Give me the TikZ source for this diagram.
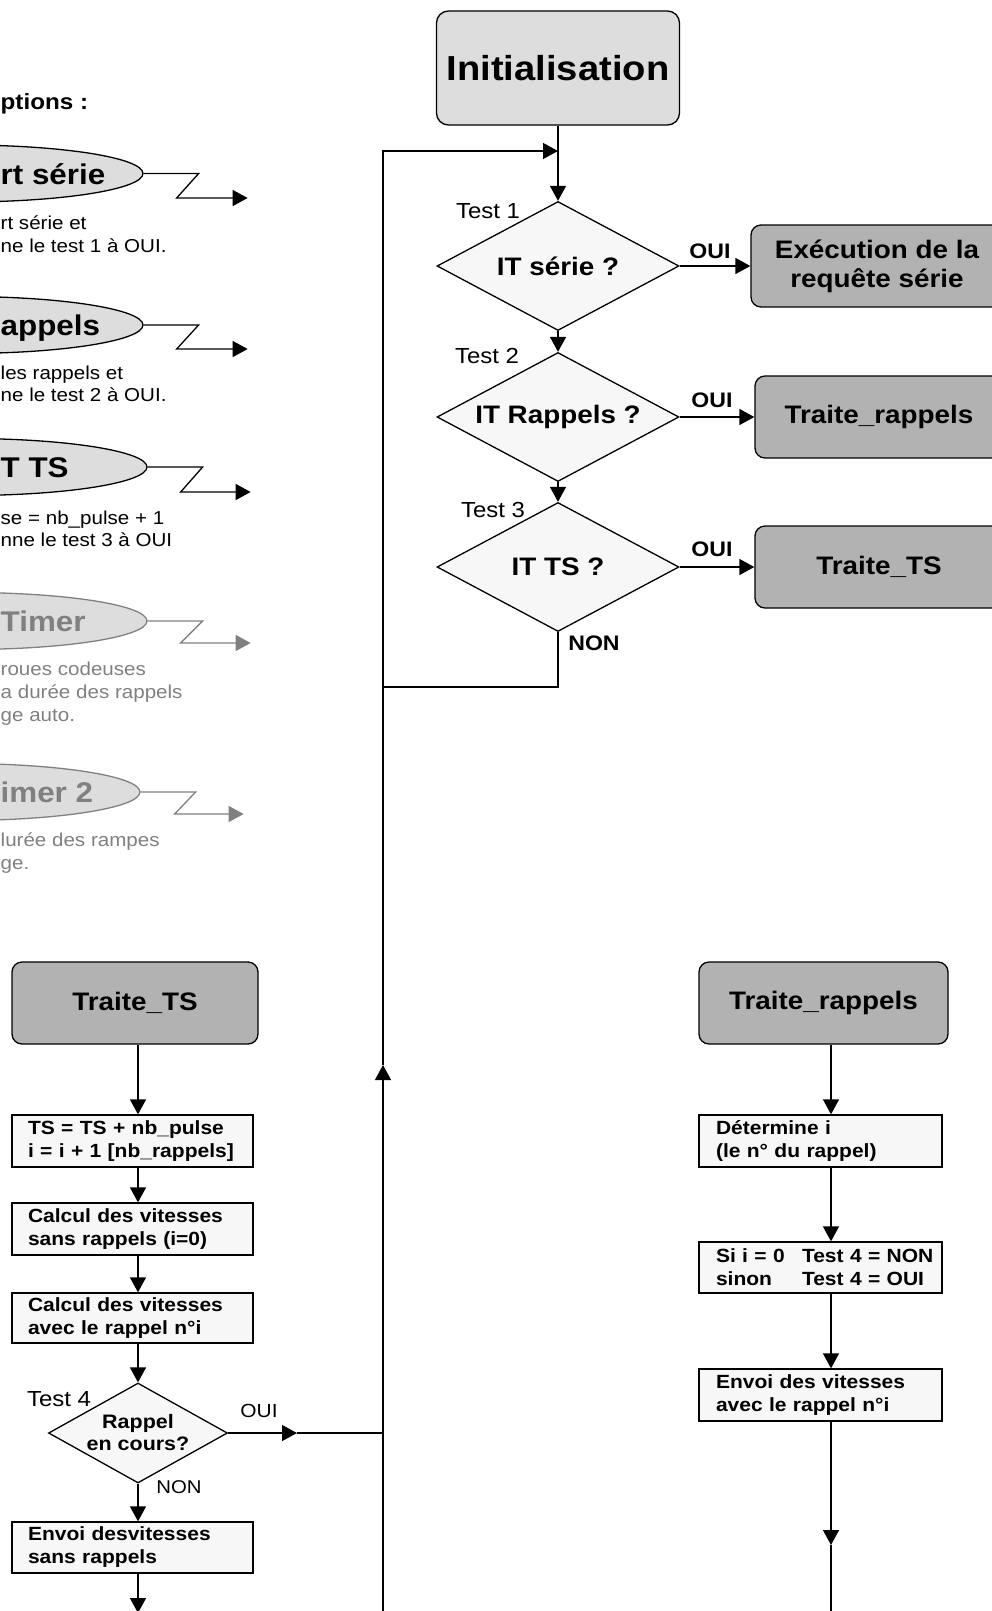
\documentclass[tikz,border=0pt]{standalone}
\usepackage{fontspec}
\setmainfont{Liberation Sans}[FakeStretch=1.1]
\usetikzlibrary{arrows.meta,shapes.geometric}
\definecolor{lightfill}{HTML}{DDDDDD}
\definecolor{darkfill}{HTML}{B2B2B2}
\definecolor{procfill}{HTML}{F7F7F7}
\definecolor{midgray}{HTML}{808080}
\tikzset{
  ln/.style={line width=1.3pt},
  arr/.style={ln, -{Triangle[length=15pt,width=16pt]}},
  garr/.style={arr, draw=midgray},
  initbox/.style={draw, ln, fill=lightfill, rounded corners=12pt, minimum width=243pt, minimum height=114pt, inner sep=0pt, font=\bfseries\fontsize{34.7}{40}\selectfont},
  darkbox/.style={draw, ln, fill=darkfill, rounded corners=10pt, minimum width=248pt, minimum height=82pt, inner sep=0pt, align=center, font=\bfseries\fontsize{25.3}{29}\selectfont},
  dec/.style={diamond, aspect=1.876, draw, ln, fill=procfill, minimum width=242pt, minimum height=129pt, inner sep=0pt, font=\bfseries\fontsize{25.3}{29}\selectfont},
  decsmall/.style={diamond, aspect=1.79, draw, ln, fill=procfill, minimum width=179pt, minimum height=100pt, inner sep=0pt, align=center, font=\bfseries\fontsize{19.5}{22}\selectfont},
  procL/.style={draw, ln, fill=procfill, minimum width=241pt, minimum height=52pt, text width=209pt, inner xsep=16pt, inner ysep=0pt, align=left, font=\bfseries\fontsize{19.1}{23}\selectfont},
  procR/.style={procL, minimum width=243pt, inner xsep=17pt},
  lbl/.style={inner sep=0pt, font=\fontsize{21.8}{24}\selectfont},
  lblb/.style={inner sep=0pt, font=\bfseries\fontsize{21}{24}\selectfont},
  ellL/.style={ellipse, draw, ln, fill=lightfill, minimum width=360pt, minimum height=57pt, inner sep=0pt},
  ellG/.style={ellL, draw=midgray},
  etext/.style={inner sep=0pt, anchor=base west, font=\bfseries\fontsize{28.5}{32}\selectfont},
  dtext/.style={inner sep=0pt, anchor=base west, font=\fontsize{18.7}{23}\selectfont},
  gtext/.style={text=midgray}
}
\begin{document}
\begin{tikzpicture}[x=1pt,y=-1pt]
\useasboundingbox (0,0) rectangle (992,1611);
\clip (0,0) rectangle (992,1611);

% ---------------- left legend ----------------
\node[inner sep=0pt, anchor=base west, font=\bfseries\fontsize{22}{26}\selectfont] (hdr) at (0.5,109) {ptions :};

\node[ellL] (e1) at (-37,173.5) {};
\node[etext] (e1t) at (0.5,184) {rt série};
\draw[arr] (e1.east) -- ++(55,0) -- ++(-22,24.5) -- ++(71,0);
\node[dtext] (e1a) at (0.5,229) {rt série et};
\node[dtext] (e1b) at (0.5,252) {ne le test 1 à OUI.};

\node[ellL] (e2) at (-37,325) {};
\node[etext] (e2t) at (0.5,335) {appels};
\draw[arr] (e2.east) -- ++(55,0) -- ++(-22,24) -- ++(71,0);
\node[dtext] (e2a) at (0.5,379) {les rappels et};
\node[dtext] (e2b) at (0.5,401) {ne le test 2 à OUI.};

\node[ellL] (e3) at (-33,467) {};
\node[etext] (e3t) at (0.5,477) {T TS};
\draw[arr] (e3.east) -- ++(55,0) -- ++(-22,25) -- ++(70,0);
\node[dtext] (e3a) at (0.5,524) {se = nb\_pulse + 1};
\node[dtext] (e3b) at (0.5,546) {nne le test 3 à OUI};

\node[ellG] (e4) at (-33,621) {};
\node[etext, gtext] (e4t) at (0.5,631) {Timer};
\draw[garr] (e4.east) -- ++(55,0) -- ++(-22,22) -- ++(70,0);
\node[dtext, gtext] (e4a) at (0.5,675) {roues codeuses};
\node[dtext, gtext] (e4b) at (0.5,698) {a durée des rappels};
\node[dtext, gtext] (e4c) at (0.5,721) {ge auto.};

\node[ellG] (e5) at (-40,792) {};
\node[etext, gtext] (e5t) at (0.5,802) {imer 2};
\draw[garr] (e5.east) -- ++(55,0) -- ++(-21,22) -- ++(69,0);
\node[dtext, gtext] (e5a) at (0.5,846) {lurée des rampes};
\node[dtext, gtext] (e5b) at (0.5,869) {ge.};

% ---------------- main loop ----------------
\node[initbox] (init) at (558,68) {Initialisation};
\node[dec] (d1) at (558,266) {IT série ?};
\node[dec] (d2) at (558,417) {IT Rappels ?};
\node[dec] (d3) at (558,567) {IT TS ?};
\node[darkbox, minimum width=252pt] (exe) at (877,266) {Exécution de la\\requête série};
\node[darkbox] (trr) at (879,417) {Traite\_rappels};
\node[darkbox] (trts) at (879,567) {Traite\_TS};

\node[lbl] (t1) at (488,211) {Test 1};
\node[lbl] (t2) at (487,356) {Test 2};
\node[lbl] (t3) at (493,510) {Test 3};
\node[lblb] (o1) at (710,251) {OUI};
\node[lblb] (o2) at (712,400) {OUI};
\node[lblb] (o3) at (712,549) {OUI};
\node[lblb] (n3) at (594,643) {NON};

\coordinate (junction) at (558,151);
\coordinate (looptop) at (383,151);
\coordinate (loopup) at (383,1065);
\coordinate (loopbot) at (383,1620);
\coordinate (nonjoin) at (383,687);

\draw[arr] (init.south) -- (d1.north);
\draw[arr] (d1.south) -- (d2.north);
\draw[arr] (d2.south) -- (d3.north);
\draw[arr] (d1.east) -- (exe.west);
\draw[arr] (d2.east) -- (trr.west);
\draw[arr] (d3.east) -- (trts.west);
\draw[ln] (d3.south) |- (nonjoin);
\draw[arr] (loopbot) -- (loopup);
\draw[arr] (loopup) -- (looptop) -- (junction);

% ---------------- Traite_TS ----------------
\coordinate (colL) at (138,0);
\node[darkbox, minimum width=246pt] (tts) at (135,1003) {Traite\_TS};
\node[procL] (b1) at (132.5,1141) {TS = TS + nb\_pulse\\i = i + 1 [nb\_rappels]};
\node[procL] (b2) at (132.5,1229) {Calcul des vitesses\\sans rappels (i=0)};
\node[procL, minimum height=50pt] (b3) at (132.5,1318) {Calcul des vitesses\\avec le rappel n°i};
\node[decsmall] (d4) at (138,1433) {Rappel\\en cours?};
\node[procL, minimum height=51pt] (b4) at (132.5,1547.5) {Envoi desvitesses\\sans rappels};
\node[lbl] (t4) at (59,1399) {Test 4};
\node[inner sep=0pt, font=\fontsize{19}{22}\selectfont] (o4) at (259,1411) {OUI};
\node[inner sep=0pt, font=\fontsize{18.5}{22}\selectfont] (n4) at (179,1487) {NON};
\coordinate (botL) at (138,1613);
\coordinate (oui4) at (297,1433);
\coordinate (ouijoin) at (383,1433);

\draw[arr] (tts.south -| colL) -- (b1.north -| colL);
\draw[arr] (b1.south -| colL) -- (b2.north -| colL);
\draw[arr] (b2.south -| colL) -- (b3.north -| colL);
\draw[arr] (b3.south -| colL) -- (d4.north);
\draw[arr] (d4.south) -- (b4.north -| colL);
\draw[arr] (b4.south -| colL) -- (botL);
\draw[arr] (d4.east) -- (oui4);
\draw[ln] (oui4) -- (ouijoin);

% ---------------- Traite_rappels ----------------
\coordinate (colR) at (831,0);
\node[darkbox, minimum width=249pt] (trr2) at (823.5,1003) {Traite\_rappels};
\node[procR] (r1) at (820.5,1141) {Détermine i\\(le n° du rappel)};
\node[procR, minimum height=51pt] (r2) at (820.5,1267.5) {\mbox{\makebox[86pt][l]{Si i = 0}Test 4 = NON}\\\mbox{\makebox[86pt][l]{sinon}Test 4 = OUI}};
\node[procR] (r3) at (820.5,1395) {Envoi des vitesses\\avec le rappel n°i};
\coordinate (arrR) at (831,1545);
\coordinate (botR) at (831,1620);

\draw[arr] (trr2.south -| colR) -- (r1.north -| colR);
\draw[arr] (r1.south -| colR) -- (r2.north -| colR);
\draw[arr] (r2.south -| colR) -- (r3.north -| colR);
\draw[arr] (r3.south -| colR) -- (arrR);
\draw[ln] (arrR) -- (botR);
\end{tikzpicture}
\end{document}
